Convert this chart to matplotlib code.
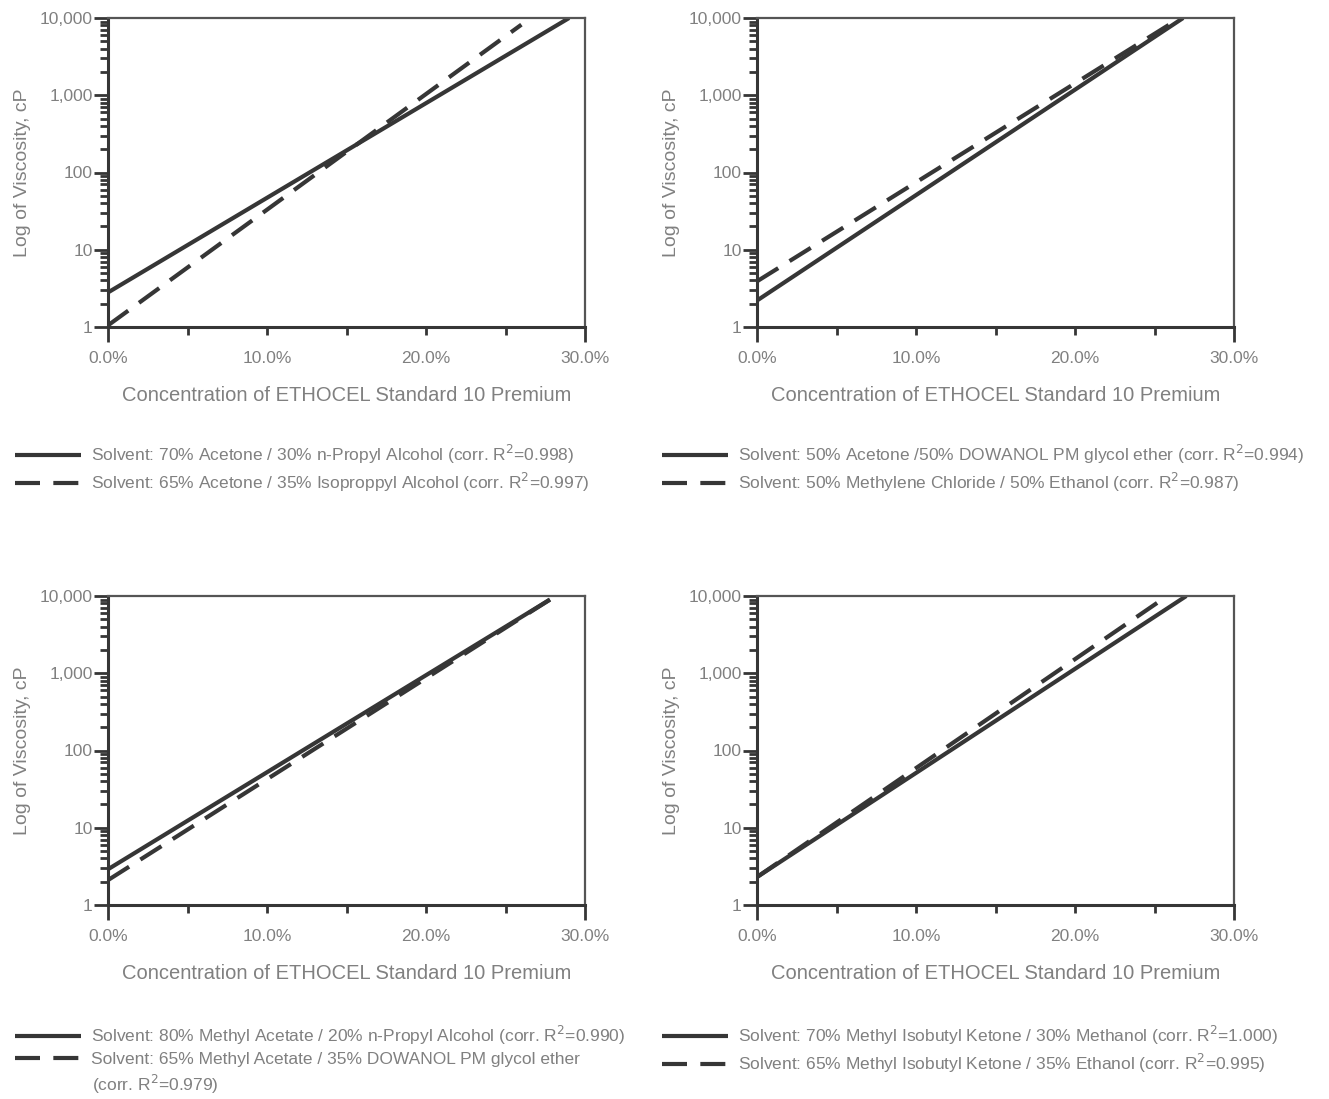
import matplotlib
matplotlib.use("Agg")
import matplotlib.pyplot as plt
from matplotlib.ticker import FixedLocator, FixedFormatter, LogLocator, NullFormatter

plt.rcParams['font.family'] = ['Liberation Sans', 'DejaVu Sans']

# ---- data (concentration %, viscosity cP) ----
tl_solid_x = [0.0, 29.0]
tl_solid_y = [2.8, 10000]
tl_dash_x = [0.0, 26.0]
tl_dash_y = [1.05, 8200]
tl_labels = ["Solvent: 70% Acetone / 30% n-Propyl Alcohol (corr. R$^2$=0.998)",
             "Solvent: 65% Acetone / 35% Isoproppyl Alcohol (corr. R$^2$=0.997)"]

tr_solid_x = [0.0, 26.8]
tr_solid_y = [2.2, 10000]
tr_dash_x = [0.0, 26.6]
tr_dash_y = [3.9, 10000]
tr_labels = ["Solvent: 50% Acetone /50% DOWANOL PM glycol ether (corr. R$^2$=0.994)",
             "Solvent: 50% Methylene Chloride / 50% Ethanol (corr. R$^2$=0.987)"]

bl_solid_x = [0.0, 27.8]
bl_solid_y = [2.9, 9000]
bl_dash_x = [0.0, 27.8]
bl_dash_y = [2.1, 9000]
bl_labels = ["Solvent: 80% Methyl Acetate / 20% n-Propyl Alcohol (corr. R$^2$=0.990)",
             "Solvent: 65% Methyl Acetate / 35% DOWANOL PM glycol ether",
             "(corr. R$^2$=0.979)"]

br_solid_x = [0.0, 27.0]
br_solid_y = [2.3, 10000]
br_dash_x = [0.0, 25.8]
br_dash_y = [2.3, 10000]
br_labels = ["Solvent: 70% Methyl Isobutyl Ketone / 30% Methanol (corr. R$^2$=1.000)",
             "Solvent: 65% Methyl Isobutyl Ketone / 35% Ethanol (corr. R$^2$=0.995)"]

x_end_ticks = [0, 30]
x_end_labels = ["0.0%", "30.0%"]
x_mid_ticks = [5, 10, 15, 20, 25]
x_mid_labels = ["", "10.0%", "", "20.0%", ""]
y_ticks = [1, 10, 100, 1000, 10000]
y_ticklabels = ["1", "10", "100", "1,000", "10,000"]
xlabel = "Concentration of ETHOCEL Standard 10 Premium"
ylabel = "Log of Viscosity, cP"

TEXT = '#808080'
LINE = '#363636'

fig = plt.figure(figsize=(13.29, 10.99), dpi=100)

W = 1329.0
H = 1099.0
panels = [
    (108, 18, (tl_solid_x, tl_solid_y, tl_dash_x, tl_dash_y, tl_labels), 15, 443),
    (757, 18, (tr_solid_x, tr_solid_y, tr_dash_x, tr_dash_y, tr_labels), 662, 443),
    (108, 596, (bl_solid_x, bl_solid_y, bl_dash_x, bl_dash_y, bl_labels), 15, 1024),
    (757, 596, (br_solid_x, br_solid_y, br_dash_x, br_dash_y, br_labels), 662, 1024),
]
aw, ah = 477, 309

for (px, py, d, lx, ly) in panels:
    sx, sy, dx, dy, labs = d
    ax = fig.add_axes([px / W, 1 - (py + ah) / H, aw / W, ah / H])
    ax.set_yscale('log')
    ax.set_xlim(0, 30)
    ax.set_ylim(1, 10000)
    l1, = ax.plot(sx, sy, color=LINE, lw=3.0, solid_capstyle='butt')
    l2, = ax.plot(dx, dy, color=LINE, lw=3.0, dashes=(6, 3.2), dash_capstyle='butt')

    ax.xaxis.set_major_locator(FixedLocator(x_end_ticks))
    ax.xaxis.set_major_formatter(FixedFormatter(x_end_labels))
    ax.xaxis.set_minor_locator(FixedLocator(x_mid_ticks))
    ax.xaxis.set_minor_formatter(FixedFormatter(x_mid_labels))
    ax.yaxis.set_major_locator(FixedLocator(y_ticks))
    ax.yaxis.set_major_formatter(FixedFormatter(y_ticklabels))
    ax.yaxis.set_minor_locator(LogLocator(base=10, subs=range(2, 10)))
    ax.yaxis.set_minor_formatter(NullFormatter())

    ax.tick_params(axis='x', which='major', direction='out', length=11, width=2,
                   color=LINE, labelcolor=TEXT, labelsize=12.5, pad=6)
    ax.tick_params(axis='x', which='minor', direction='out', length=6, width=2,
                   color=LINE, labelcolor=TEXT, labelsize=12.5, pad=11)
    ax.tick_params(axis='y', which='major', direction='out', length=10, width=2,
                   color=LINE, labelcolor=TEXT, labelsize=12.5, pad=1)
    ax.tick_params(axis='y', which='minor', direction='out', length=6, width=2, color=LINE)
    for s in ['left', 'bottom']:
        ax.spines[s].set_color(LINE)
        ax.spines[s].set_linewidth(2.2)
    for s in ['top', 'right']:
        ax.spines[s].set_color('#555555')
        ax.spines[s].set_linewidth(1.6)

    ax.set_xlabel(xlabel, color=TEXT, fontsize=14.5, labelpad=15)
    ax.set_ylabel(ylabel, color=TEXT, fontsize=14, labelpad=6)

    handles = [l1, l2]
    leg_labs = labs[:2]
    fig.legend(handles, leg_labs, loc='upper left',
               bbox_to_anchor=(lx / W, 1 - ly / H), frameon=False,
               fontsize=12.5, labelcolor=TEXT, handlelength=3.8,
               handletextpad=0.6, borderaxespad=0, borderpad=0,
               labelspacing=0.3)
    if len(labs) > 2:
        fig.text(92 / W, 1 - 1084 / H, labs[2], color=TEXT, fontsize=12.5,
                 ha='left', va='center')

fig.savefig('out.png', dpi=100, facecolor='white')
